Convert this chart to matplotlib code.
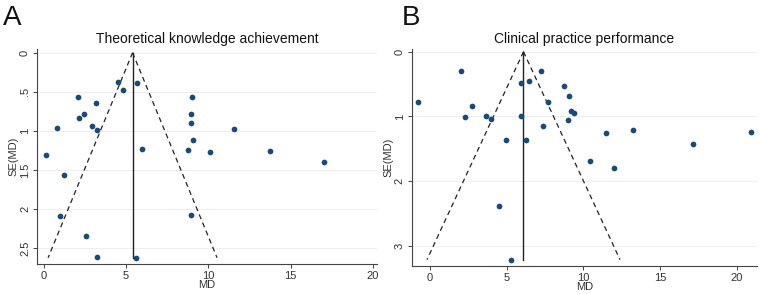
import matplotlib
matplotlib.use("Agg")
import matplotlib.pyplot as plt
import numpy as np

plt.rcParams['font.family'] = ['Liberation Sans', 'DejaVu Sans']

# Panel A data
a_title = "Theoretical knowledge achievement"
a_md = [4.50, 4.84, 5.69, 2.11, 3.16, 9.02, 2.43, 2.17, 8.94, 8.96, 0.79, 2.92, 3.26,
        11.55, 9.06, 5.98, 8.79, 10.09, 13.76, 0.12, 17.06, 1.22, 0.99, 8.96, 2.59, 3.26, 5.61]
a_se = [0.379, 0.477, 0.383, 0.566, 0.647, 0.562, 0.788, 0.830, 0.788, 0.894, 0.962, 0.937, 0.992,
        0.979, 1.111, 1.230, 1.247, 1.273, 1.256, 1.311, 1.401, 1.558, 2.082, 2.069, 2.341, 2.614, 2.618]
a_pooled = 5.40
a_semax = 2.62
a_xticks = [0, 5, 10, 15, 20]
a_yticks = [0, 0.5, 1, 1.5, 2, 2.5]
a_yticklabels = ["0", ".5", "1", "1.5", "2", "2.5"]

# Panel B data
b_title = "Clinical practice performance"
b_md = [-0.76, 2.00, 7.26, 5.96, 6.48, 8.72, 9.04, 7.72, 2.72, 2.28, 3.65, 3.98, 5.96, 9.17,
        9.39, 9.00, 7.35, 13.26, 11.50, 20.93, 17.17, 4.96, 6.24, 10.41, 12.02, 4.52, 5.26]
b_se = [0.782, 0.298, 0.298, 0.479, 0.448, 0.535, 0.685, 0.777, 0.844, 1.014, 0.998, 1.034, 0.988, 0.916,
        0.952, 1.050, 1.148, 1.204, 1.261, 1.240, 1.431, 1.359, 1.359, 1.683, 1.791, 2.383, 3.212]
b_pooled = 6.09
b_semax = 3.21
b_xticks = [0, 5, 10, 15, 20]
b_yticks = [0, 1, 2, 3]
b_yticklabels = ["0", "1", "2", "3"]

W, H = 764, 294
fig = plt.figure(figsize=(W / 100, H / 100), dpi=100)
fig.patch.set_facecolor("white")

dot = "#1b4a78"

def panel(rect, md, se, pooled, semax, title, xticks, yticks, yticklabels, xlim, ylim, letter, letter_x):
    ax = fig.add_axes(rect)
    ax.set_xlim(*xlim)
    ax.set_ylim(*ylim)
    for y in yticks:
        ax.axhline(y, color="#efefef", lw=0.8, zorder=0)
    se_line = np.array([0, semax])
    ax.plot(pooled - 1.96 * se_line, se_line, color="#222222", lw=0.9, ls=(0, (4, 3)), zorder=2)
    ax.plot(pooled + 1.96 * se_line, se_line, color="#222222", lw=0.9, ls=(0, (4, 3)), zorder=2)
    ax.plot([pooled, pooled], [0, semax], color="#222222", lw=1.0, zorder=2)
    ax.scatter(md, se, s=17, color=dot, zorder=3, linewidths=0)
    ax.set_xticks(xticks)
    ax.set_yticks(yticks)
    ax.set_yticklabels(yticklabels, rotation=90, va="center")
    for s in ["top", "right"]:
        ax.spines[s].set_visible(False)
    for s in ["left", "bottom"]:
        ax.spines[s].set_color("#444444")
        ax.spines[s].set_linewidth(0.8)
    ax.tick_params(axis="both", labelsize=8, length=3, width=0.7, color="#444444",
                   labelcolor="#333333", pad=2)
    ax.set_xlabel("MD", fontsize=8, color="#333333", labelpad=-1)
    ax.set_ylabel("SE(MD)", fontsize=8, color="#333333", labelpad=1)
    ax.set_title(title, fontsize=10, color="#111111", pad=4)
    fig.text(letter_x / W, 1 - 18 / H, letter, fontsize=20, va="center", ha="left", color="#111111")
    return ax

panel([37 / W, (H - 264) / H, (376.7 - 37) / W, (264 - 49) / H],
      a_md, a_se, a_pooled, a_semax, a_title, a_xticks, a_yticks, a_yticklabels,
      (-0.41, 20.24), (2.70, -0.047), "A", 3)
panel([411.7 / W, (H - 266) / H, (756.7 - 411.7) / W, (266 - 49) / H],
      b_md, b_se, b_pooled, b_semax, b_title, b_xticks, b_yticks, b_yticklabels,
      (-1.2, 21.3), (3.309, -0.042), "B", 402)

fig.savefig("out.png", dpi=100, facecolor="white")
